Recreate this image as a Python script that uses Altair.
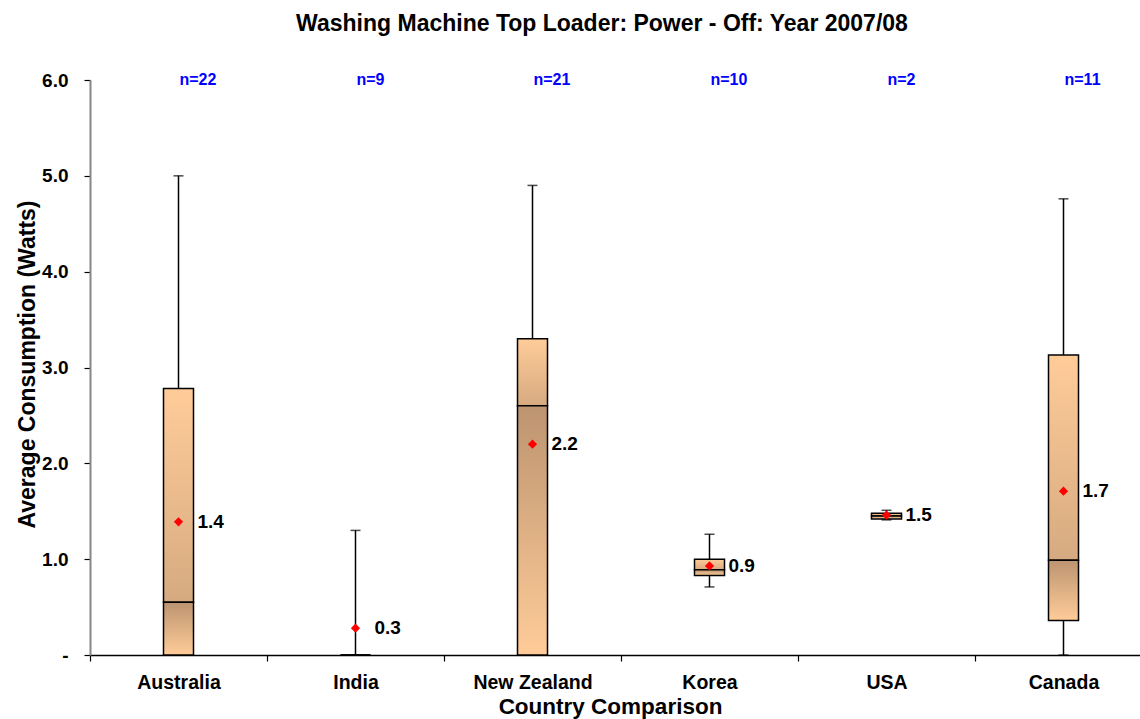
import altair as alt
import pandas as pd

# Standby (power-off) consumption of top-loading washing machines, 2007/08
countries = ["Australia", "India", "New Zealand", "Korea", "USA", "Canada"]
sample_n = [22, 9, 21, 10, 2, 11]
whisker_lo = [0.0, 0.0, 0.0, 0.71, 1.41, 0.0]
q1 = [0.0, 0.0, 0.0, 0.83, 1.42, 0.36]
median = [0.55, 0.0, 2.60, 0.89, 1.45, 0.99]
q3 = [2.78, 0.0, 3.30, 1.00, 1.48, 3.13]
whisker_hi = [5.00, 1.30, 4.90, 1.26, 1.51, 4.76]
mean = [1.39, 0.28, 2.20, 0.93, 1.46, 1.71]

df = pd.DataFrame({
    "country": countries,
    "n": sample_n,
    "lo": whisker_lo,
    "q1": q1,
    "med": median,
    "q3": q3,
    "hi": whisker_hi,
    "mean": mean,
})
df["n_label"] = ["n=" + str(v) for v in df["n"]]
df["mean_label"] = [f"{v:.1f}" for v in df["mean"]]

FONT = "Liberation Sans"

x = alt.X(
    "country:N",
    sort=countries,
    scale=alt.Scale(paddingInner=0, paddingOuter=0, range=[0, 1062]),
    axis=alt.Axis(
        title="Country Comparison",
        labelAngle=0,
        labelFontSize=19.5,
        labelFontWeight="bold",
        labelColor="black",
        labelPadding=12,
        tickBand="extent",
        tickSize=6,
        tickColor="black",
        tickWidth=1.2,
        domainColor="black",
        domainWidth=1.5,
        titleFontSize=22.5,
        titleFontWeight="bold",
        titleX=520,
        titleY=58,
        titleAnchor="middle",
        titleAlign="center",
        titleBaseline="alphabetic",
    ),
)

y_scale = alt.Scale(domain=[0, 6], nice=False, zero=True)
y_axis = alt.Axis(
    title="Average Consumption (Watts)",
    values=[0, 1, 2, 3, 4, 5, 6],
    labelExpr="datum.value == 0 ? '-' : format(datum.value, '.1f')",
    labelFontSize=19,
    labelFontWeight="bold",
    labelColor="black",
    labelPadding=16,
    tickSize=6,
    tickColor="black",
    tickWidth=1.2,
    domainColor="#868686",
    domainWidth=2,
    grid=False,
    titleFontSize=23,
    titleFontWeight="bold",
    titleAngle=270,
    titleX=-63,
    titleY=284,
    titleAlign="center",
    titleBaseline="middle",
)

base = alt.Chart(df)

whisker = base.mark_rule(color="black", strokeWidth=1.5).encode(
    x=x,
    y=alt.Y("lo:Q", scale=y_scale, axis=y_axis),
    y2="hi:Q",
)

cap_hi = base.mark_tick(color="black", orient="horizontal", size=10, thickness=1.5).encode(
    x=x, y=alt.Y("hi:Q", scale=y_scale)
)
cap_lo = base.mark_tick(color="black", orient="horizontal", size=10, thickness=1.5).encode(
    x=x, y=alt.Y("lo:Q", scale=y_scale)
)

upper_fill = alt.Gradient(
    gradient="linear",
    x1=0, x2=0, y1=0, y2=1,
    stops=[
        alt.GradientStop(color="#FFCC99", offset=0),
        alt.GradientStop(color="#D6AA80", offset=1),
    ],
)
lower_fill = alt.Gradient(
    gradient="linear",
    x1=0, x2=0, y1=0, y2=1,
    stops=[
        alt.GradientStop(color="#BC9470", offset=0),
        alt.GradientStop(color="#FFCC99", offset=1),
    ],
)

box_upper = base.mark_bar(size=30, fill=upper_fill, stroke="black", strokeWidth=1.5).encode(
    x=x, y=alt.Y("med:Q", scale=y_scale), y2="q3:Q"
)
box_lower = base.mark_bar(size=30, fill=lower_fill, stroke="black", strokeWidth=1.5).encode(
    x=x, y=alt.Y("q1:Q", scale=y_scale), y2="med:Q"
)

mean_pt = base.mark_point(shape="diamond", filled=True, color="#FF0000", size=85, opacity=1).encode(
    x=x, y=alt.Y("mean:Q", scale=y_scale)
)

mean_text = base.mark_text(
    align="left", baseline="middle", dx=19, font=FONT, fontSize=19, fontWeight="bold", color="black"
).encode(x=x, y=alt.Y("mean:Q", scale=y_scale), text="mean_label:N")

n_text = base.mark_text(
    align="left", baseline="middle", dx=1, font=FONT, fontSize=16, fontWeight="bold", color="#0000FF"
).encode(x=x, y=alt.value(0), text="n_label:N")

chart = (
    alt.layer(whisker, cap_hi, cap_lo, box_upper, box_lower, mean_pt, mean_text, n_text)
    .properties(
        width=1050,
        height=575,
        autosize=alt.AutoSizeParams(type="none"),
        padding={"left": 90, "top": 80, "right": 0, "bottom": 64},
        title=alt.TitleParams(
            text="Washing Machine Top Loader: Power - Off: Year 2007/08",
            fontSize=23,
            fontWeight="bold",
            font=FONT,
            color="black",
            anchor="middle",
            frame="group",
            dx=-13,
            offset=17,
            baseline="alphabetic",
        ),
    )
    .configure(font=FONT, background="white")
    .configure_view(stroke=None)
    .configure_axis(labelFont=FONT, titleFont=FONT, titleColor="black")
)

chart.save("out.html", embed_options={"renderer": "svg", "actions": False})
